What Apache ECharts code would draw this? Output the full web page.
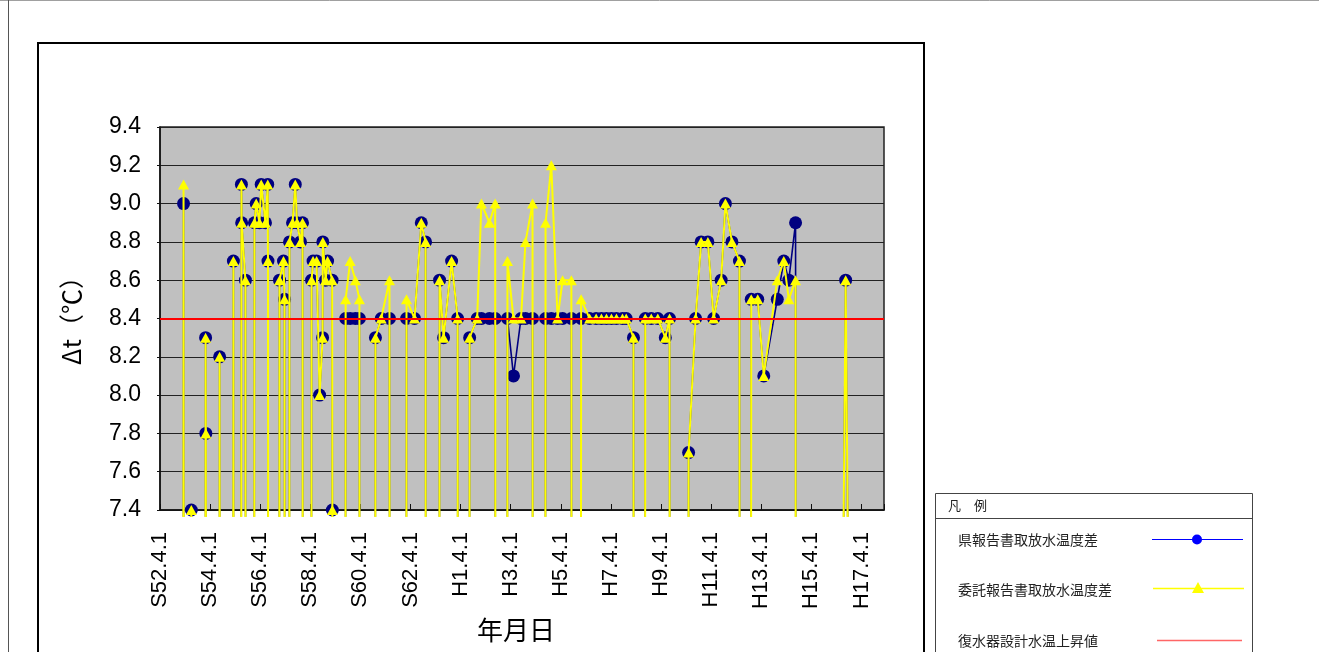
<!DOCTYPE html>
<html><head><meta charset="utf-8">
<script src="https://cdn.jsdelivr.net/npm/echarts@6/dist/echarts.min.js"></script>
<style>html,body{margin:0;padding:0;background:#fff}#c{width:1319px;height:652px}</style>
</head><body><div id="c"></div>
<script>
// x-axis tick labels (every 2 years from S52.4.1)
const xTickLabels = ['S52.4.1','S54.4.1','S56.4.1','S58.4.1','S60.4.1','S62.4.1','H1.4.1','H3.4.1','H5.4.1','H7.4.1','H9.4.1','H11.4.1','H13.4.1','H15.4.1','H17.4.1'];
const axisStartYear = 1977.25; // S52.4.1
const axisEndYear = 2006.15;
const yMin = 7.4, yMax = 9.4, yStep = 0.2;

// measurement dates (decimal year); 0 = blank cell (plotted as zero)
const dates = [
  1978.16,1978.19,1978.22,
  1978.47,1978.50,1978.53,
  1979.04,1979.07,1979.08,1979.11,
  1979.60,1979.63,1979.66,
  1980.15,1980.18,1980.21,
  1980.47,1980.50,1980.51,1980.66,1980.69,
  1980.99,1981.02,1981.09,1981.22,1981.29,1981.46,1981.55,1981.56,1981.59,
  1981.99,1982.02,1982.18,1982.22,1982.25,
  1982.39,1982.42,1982.54,1982.65,1982.72,1982.86,1982.94,1982.97,
  1983.27,1983.30,1983.36,1983.50,1983.62,1983.74,1983.75,1983.86,1983.94,1984.12,1984.13,1984.16,
  1984.63,1984.66,1984.84,1985.05,1985.21,1985.24,
  1985.82,1985.85,1986.08,1986.41,1986.44,
  1987.06,1987.09,1987.41,1987.68,1987.85,1987.88,
  1988.38,1988.41,1988.57,1988.89,1989.13,1989.16,
  1989.58,1989.61,1989.91,1990.08,1990.40,1990.63,1990.66,
  1991.09,1991.12,1991.36,1991.66,1991.84,1992.12,1992.15,
  1992.61,1992.64,1992.87,1993.12,1993.32,1993.67,1993.70,
  1994.03,1994.06,1994.40,1994.66,1994.87,1995.07,1995.27,1995.47,1995.71,1995.86,1996.15,1996.18,
  1996.59,1996.62,1996.86,1997.12,1997.42,1997.59,1997.62,
  1998.32,1998.35,1998.63,1998.85,1999.12,1999.35,1999.65,1999.82,2000.08,2000.38,2000.41,
  2000.82,2000.85,2001.11,2001.35,2001.89,2002.15,2002.35,2002.62,2002.65,
  2004.06,2004.62,2005.17
];
// 県報告書取放水温度差
const prefDiff = [
  0,9.0,0,
  0,7.4,0,
  0,8.3,7.8,0,
  0,8.2,0,
  0,8.7,0,
  0,9.1,8.9,8.6,0,
  0,8.9,9.0,8.9,9.1,8.9,9.1,8.7,0,
  0,8.6,8.7,8.5,0,
  0,8.8,8.9,9.1,8.9,8.8,8.9,0,
  0,8.6,8.7,8.7,8.0,8.3,8.8,8.6,8.7,8.6,7.4,0,
  0,8.4,8.4,8.4,8.4,0,
  0,8.3,8.4,8.4,0,
  0,8.4,8.4,8.9,8.8,0,
  0,8.6,8.3,8.7,8.4,0,
  0,8.3,8.4,8.4,8.4,8.4,0,
  0,8.4,8.1,8.4,8.4,8.4,0,
  0,8.4,8.4,8.4,8.4,8.4,0,
  0,8.4,8.4,8.4,8.4,8.4,8.4,8.4,8.4,8.4,8.3,0,
  0,8.4,8.4,8.4,8.3,8.4,0,
  0,7.7,8.4,8.8,8.8,8.4,8.6,9.0,8.8,8.7,0,
  0,8.5,8.5,8.1,8.5,8.7,8.6,8.9,0,
  0,8.6,0
];
// 委託報告書取放水温度差
const contractDiff = [
  0,9.1,0,
  0,7.4,0,
  0,8.3,7.8,0,
  0,8.2,0,
  0,8.7,0,
  0,9.1,8.9,8.6,0,
  0,8.9,9.0,8.9,9.1,8.9,9.1,8.7,0,
  0,8.6,8.7,8.5,0,
  0,8.8,8.9,9.1,8.9,8.8,8.9,0,
  0,8.6,8.7,8.7,8.0,8.3,8.8,8.6,8.7,8.6,7.4,0,
  0,8.5,8.7,8.6,8.5,0,
  0,8.3,8.4,8.6,0,
  0,8.5,8.4,8.9,8.8,0,
  0,8.6,8.3,8.7,8.4,0,
  0,8.3,8.4,9.0,8.9,9.0,0,
  0,8.7,8.4,8.4,8.8,9.0,0,
  0,8.9,9.2,8.4,8.6,8.6,0,
  0,8.5,8.4,8.4,8.4,8.4,8.4,8.4,8.4,8.4,8.3,0,
  0,8.4,8.4,8.4,8.3,8.4,0,
  0,7.7,8.4,8.8,8.8,8.4,8.6,9.0,8.8,8.7,0,
  0,8.5,8.5,8.1,8.6,8.7,8.5,8.6,0,
  0,8.6,0
];
// 復水器設計水温上昇値
const designRise = 8.4;

const seriesNames = ['県報告書取放水温度差','委託報告書取放水温度差','復水器設計水温上昇値'];

const plot = {left: 160, top: 127, width: 724, height: 383};
const overhang = 6; // lines run a few px past the bottom of the plot
const yMinOver = yMin - overhang * (yMax - yMin) / plot.height;
const xMax = axisEndYear - axisStartYear;

const pts = vals => dates.map((d, i) => [+(d - axisStartYear).toFixed(4), vals[i]]);
const num = '"Liberation Sans", Arial, sans-serif';
const jp = '"Noto Sans CJK JP", sans-serif';

const chart = echarts.init(document.getElementById('c'), null, {renderer: 'canvas'});
chart.setOption({
  animation: false,
  backgroundColor: '#fff',
  grid: [
    {left: plot.left, top: plot.top, width: plot.width, height: plot.height, show: true,
     backgroundColor: '#C0C0C0', borderColor: '#222', borderWidth: 1.5},
    {left: plot.left, top: plot.top, width: plot.width, height: plot.height + overhang, show: false}
  ],
  xAxis: [
    {type: 'value', gridIndex: 0, min: 0, max: xMax, interval: 2,
     name: '年月日', nameLocation: 'middle', nameGap: 106,
     nameTextStyle: {fontFamily: jp, fontSize: 26, color: '#000', padding: [0, 12, 0, 0]},
     axisLine: {show: true, lineStyle: {color: '#111', width: 1.5}},
     axisTick: {show: true, inside: true, length: 6, lineStyle: {color: '#111', width: 1}},
     splitLine: {show: false},
     axisLabel: {rotate: 90, margin: 22, color: '#000', fontFamily: num, fontSize: 22,
       formatter: v => { const k = Math.round(v / 2); return Math.abs(v - 2 * k) < 1e-6 ? (xTickLabels[k] || '') : ''; }}},
    {type: 'value', gridIndex: 1, min: 0, max: xMax, show: false}
  ],
  yAxis: [
    {type: 'value', gridIndex: 0, min: yMin, max: yMax, interval: yStep,
     name: 'Δt（℃）', nameLocation: 'middle', nameGap: 76,
     nameTextStyle: {fontFamily: jp, fontSize: 25, color: '#000', padding: [0, 0, 0, 8]},
     axisLine: {show: true, lineStyle: {color: '#111', width: 1.5}},
     axisTick: {show: true, length: 3, lineStyle: {color: '#111'}},
     splitLine: {show: true, lineStyle: {color: '#222', width: 1}},
     axisLabel: {margin: 19, color: '#000', fontFamily: num, fontSize: 23, formatter: v => v.toFixed(1)}},
    {type: 'value', gridIndex: 1, min: yMinOver, max: yMax, show: false}
  ],
  series: [
    {name: seriesNames[2], type: 'line', xAxisIndex: 0, yAxisIndex: 0, data: [], z: 1,
     markLine: {silent: true, symbol: 'none', label: {show: false},
       lineStyle: {color: '#FF0000', width: 2, type: 'solid'}, data: [{yAxis: designRise}]}},
    {name: seriesNames[0], type: 'line', xAxisIndex: 1, yAxisIndex: 1, data: pts(prefDiff), z: 2,
     clip: true, symbol: v => (v[1] > 0 ? 'circle' : 'none'), symbolSize: 13,
     itemStyle: {color: '#000080'}, lineStyle: {color: '#000080', width: 1.6}},
    {name: seriesNames[1], type: 'line', xAxisIndex: 1, yAxisIndex: 1, data: pts(contractDiff), z: 3,
     clip: true, symbol: v => (v[1] > 0 ? 'triangle' : 'none'), symbolSize: [11, 10],
     itemStyle: {color: '#FFFF00'}, lineStyle: {color: '#FFFF00', width: 2}}
  ],
  graphic: [
    {type: 'line', shape: {x1: 0, y1: 0.5, x2: 1319, y2: 0.5}, style: {stroke: '#a0a0a0', lineWidth: 1}},
    {type: 'line', shape: {x1: 8.5, y1: 0, x2: 8.5, y2: 652}, style: {stroke: '#555', lineWidth: 1}},
    {type: 'rect', shape: {x: 38, y: 43, width: 886, height: 700}, style: {fill: 'none', stroke: '#000', lineWidth: 2}},
    {type: 'rect', shape: {x: 935.5, y: 493.5, width: 317, height: 200}, style: {fill: '#fff', stroke: '#444', lineWidth: 1}},
    {type: 'line', shape: {x1: 935.5, y1: 518.5, x2: 1252.5, y2: 518.5}, style: {stroke: '#444', lineWidth: 1}},
    {type: 'text', style: {text: '凡　例', x: 948, y: 505, font: '13px ' + jp, fill: '#222', textAlign: 'left', textVerticalAlign: 'middle', verticalAlign: 'middle'}},
    {type: 'text', style: {text: seriesNames[0], x: 958, y: 540, font: '14px ' + jp, fill: '#222', textAlign: 'left', textVerticalAlign: 'middle', verticalAlign: 'middle'}},
    {type: 'text', style: {text: seriesNames[1], x: 958, y: 590, font: '14px ' + jp, fill: '#222', textAlign: 'left', textVerticalAlign: 'middle', verticalAlign: 'middle'}},
    {type: 'text', style: {text: seriesNames[2], x: 958, y: 641, font: '14px ' + jp, fill: '#222', textAlign: 'left', textVerticalAlign: 'middle', verticalAlign: 'middle'}},
    {type: 'line', shape: {x1: 1152, y1: 539.5, x2: 1243, y2: 539.5}, style: {stroke: '#0000FF', lineWidth: 1.2}},
    {type: 'circle', shape: {cx: 1197, cy: 539.5, r: 5}, style: {fill: '#0000FF'}},
    {type: 'line', shape: {x1: 1153, y1: 588.5, x2: 1244, y2: 588.5}, style: {stroke: '#FFFF00', lineWidth: 1.5}},
    {type: 'polygon', shape: {points: [[1198, 582], [1192, 593], [1204, 593]]}, style: {fill: '#FFFF00'}},
    {type: 'line', shape: {x1: 1157, y1: 640.5, x2: 1242, y2: 640.5}, style: {stroke: '#FF6666', lineWidth: 1.5}}
  ]
});
</script></body></html>
